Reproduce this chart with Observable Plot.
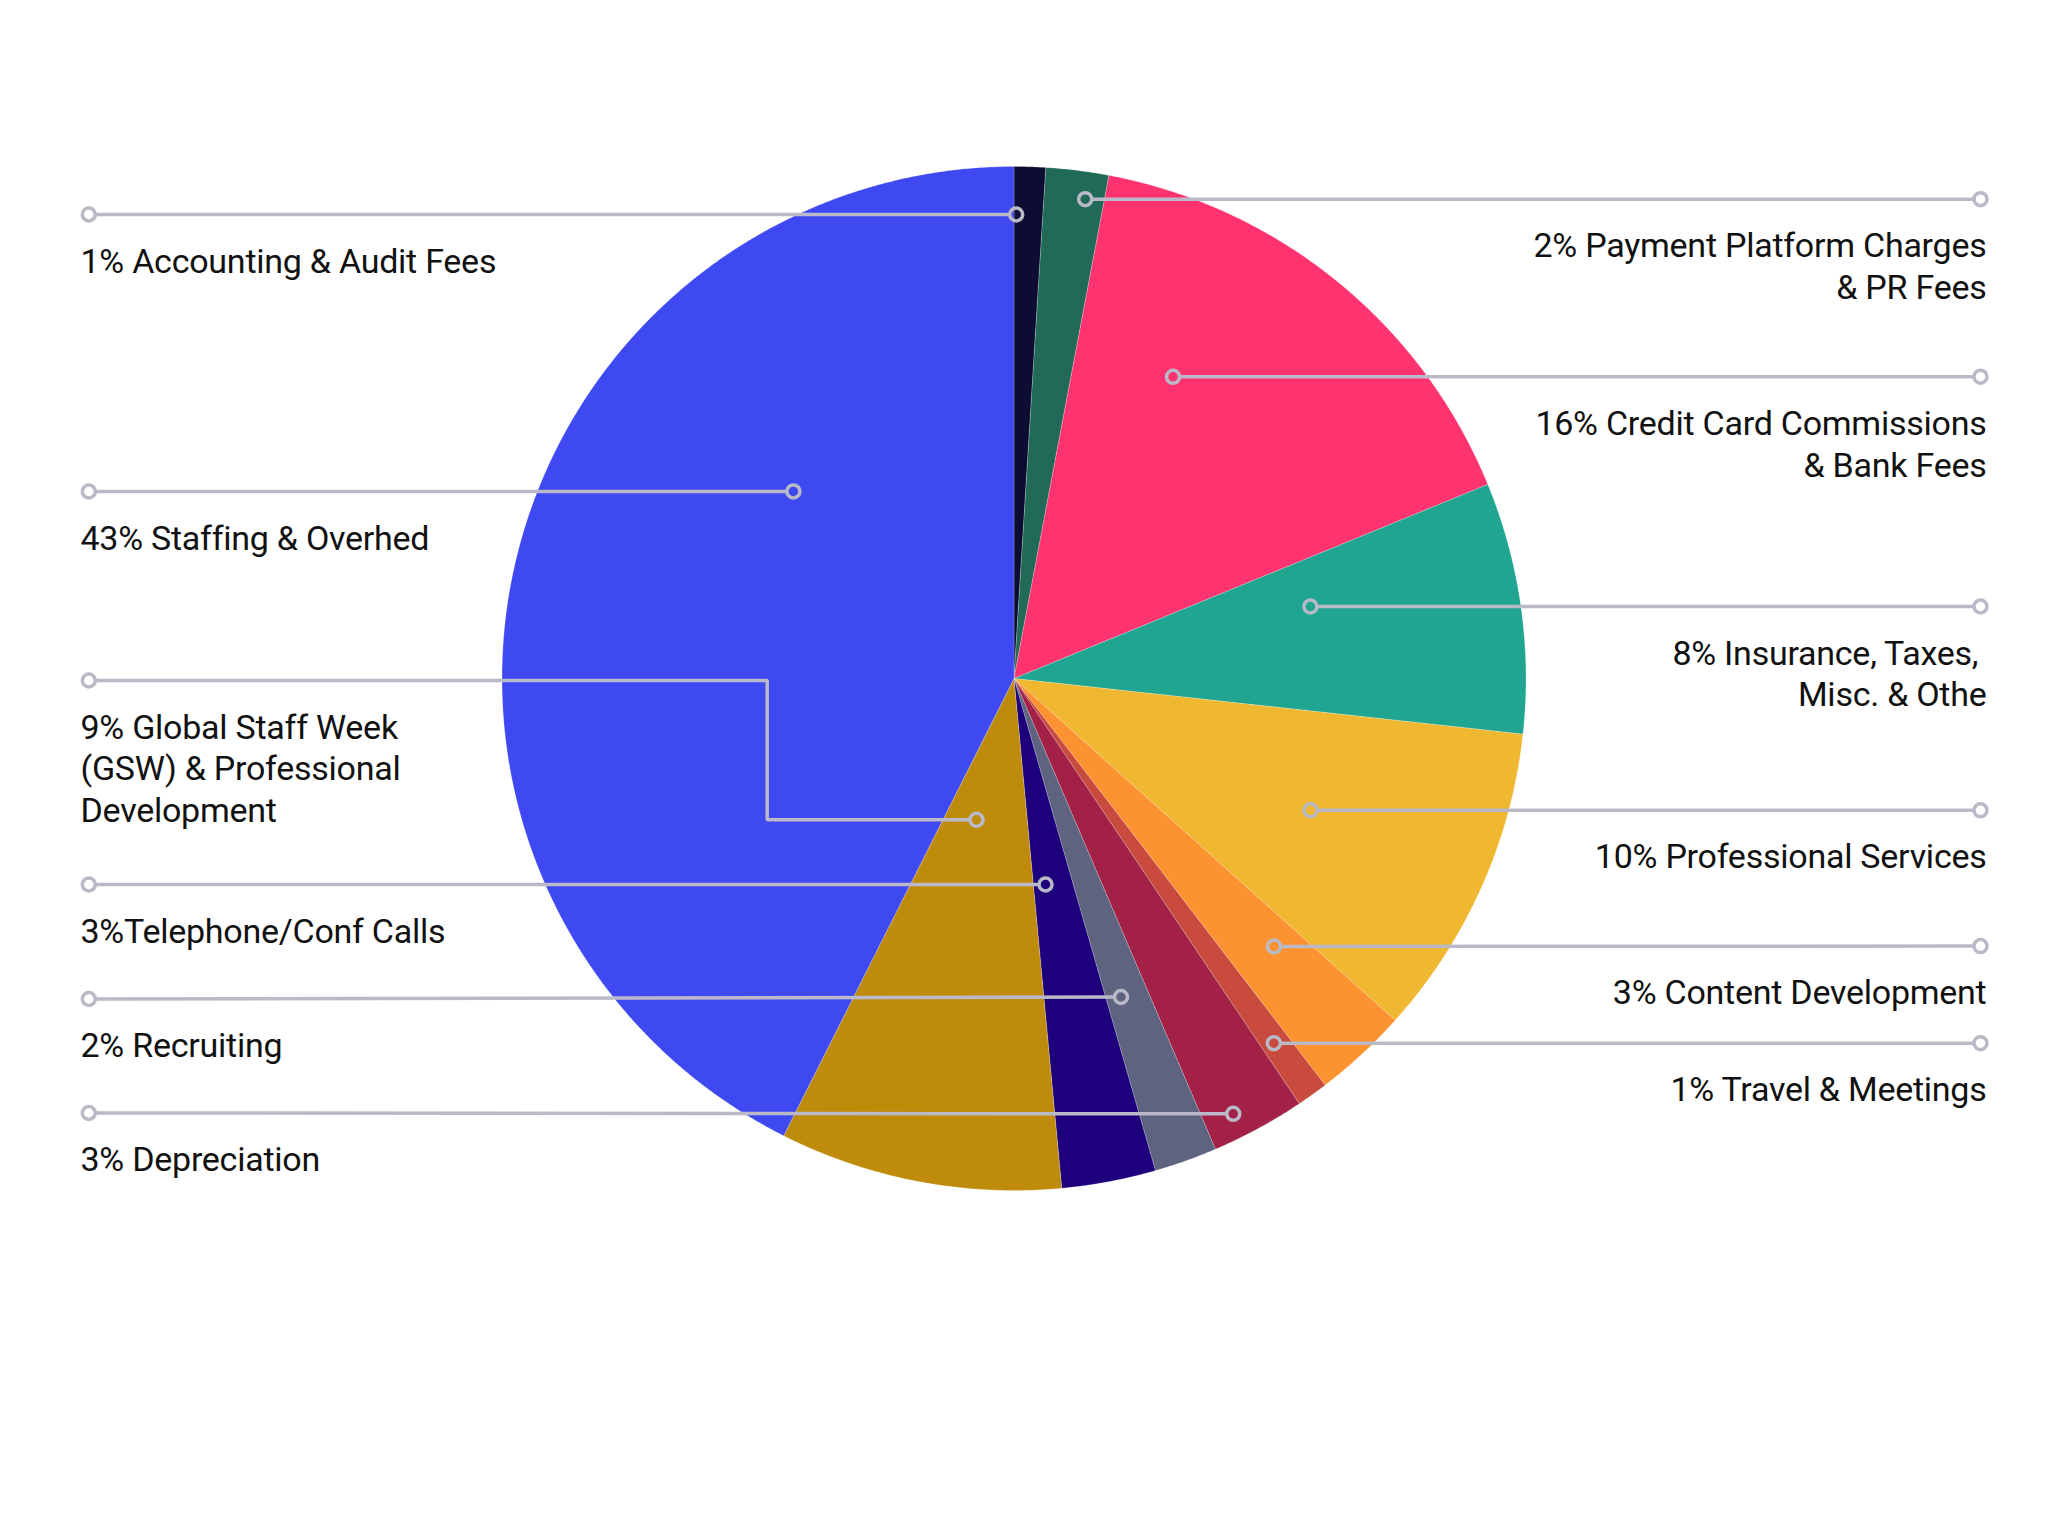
<!DOCTYPE html>
<html>
<head>
<meta charset="utf-8">
<script src="https://cdn.jsdelivr.net/npm/d3@7"></script>
<script src="https://cdn.jsdelivr.net/npm/@observablehq/plot@0.6"></script>
<style>
  html, body { margin: 0; padding: 0; background: #ffffff; }
  svg text { white-space: pre; letter-spacing: -0.25px; }
</style>
</head>
<body>
<div id="chart"></div>
<script>
// ---------- data ----------
const categories = [
  "Accounting & Audit Fees",
  "Payment Platform Charges & PR Fees",
  "Credit Card Commissions & Bank Fees",
  "Insurance, Taxes, Misc. & Other",
  "Professional Services",
  "Content Development",
  "Travel & Meetings",
  "Depreciation",
  "Recruiting",
  "Telephone/Conf Calls",
  "Global Staff Week (GSW) & Professional Development",
  "Staffing & Overhead"
];
const percents = [1, 2, 16, 8, 10, 3, 1, 3, 2, 3, 9, 43];
const labelTexts = [
  "1% Accounting & Audit Fees",
  "2% Payment Platform Charges\n& PR Fees",
  "16% Credit Card Commissions\n& Bank Fees",
  "8% Insurance, Taxes, \nMisc. & Othe",
  "10% Professional Services",
  "3% Content Development",
  "1% Travel & Meetings",
  "3% Depreciation",
  "2% Recruiting",
  "3%Telephone/Conf Calls",
  "9% Global Staff Week\n(GSW) & Professional\nDevelopment",
  "43% Staffing & Overhed"
];

// ---------- styles ----------
const sliceColors = [
  "#0d0d33", "#216a57", "#ff3370", "#1fa590", "#f0b830", "#fd9330",
  "#c84b3e", "#a32146", "#5e6380", "#1e007d", "#bf8b0b", "#3f49f2"
];
const calloutColor = "#b9b9c7";
const textColor = "#111111";
const fontSize = 34;
const lineHeightPx = 42;

// ---------- layout ----------
const W = 2048, H = 1536;
const CX = 1013.5, CY = 678, R = 512;
const calloutSide = ["left", "right", "right", "right", "right", "right", "right", "left", "left", "left", "left", "left"];
const anchorAngleDeg = [0.27, 8.45, 27.8, 76.35, 113.96, 135.87, 144.53, 153.27, 161.43, 171.3, 194.86, 310.3];
const anchorRadius = [464, 484.6, 341, 305, 324.5, 373.4, 447.8, 487.4, 336, 208.4, 146.2, 289.3];
const outerY = [214, 198.7, 376.2, 606, 809.8, 945.6, 1042.7, 1112.5, 998.5, 884, 680, 491];
const elbowX = [null, null, null, null, null, null, null, null, null, null, 766.7, null];
const leftDotX = 88.3, rightDotX = 1980;
const leftTextX = 80, rightTextX = 1986;
const dotR = 6.5;
const lineW = 3.5;
const textGap = 58; // from callout line to first baseline

// ---------- pie geometry ----------
const arcs = d3.pie().sort(null).value(d => d)(percents);
const piePts = [];
arcs.forEach((a, i) => {
  const n = Math.max(4, Math.ceil((a.endAngle - a.startAngle) / (Math.PI / 720)));
  piePts.push({cat: categories[i], x: CX, y: CY});
  for (let k = 0; k <= n; k++) {
    const t = a.startAngle + (a.endAngle - a.startAngle) * k / n;
    piePts.push({cat: categories[i], x: CX + R * Math.sin(t), y: CY - R * Math.cos(t)});
  }
  piePts.push({cat: categories[i], x: CX, y: CY});
});

// ---------- callouts ----------
const inner = categories.map((c, i) => {
  const t = anchorAngleDeg[i] * Math.PI / 180;
  return {cat: c, x: CX + anchorRadius[i] * Math.sin(t), y: CY - anchorRadius[i] * Math.cos(t)};
});
const outer = categories.map((c, i) => ({
  cat: c,
  x: calloutSide[i] === "left" ? leftDotX : rightDotX,
  y: outerY[i]
}));
function shorten(p, q, d) {
  const dx = q.x - p.x, dy = q.y - p.y, L = Math.hypot(dx, dy) || 1;
  return {x: p.x + dx / L * d, y: p.y + dy / L * d};
}
const linePts = [];
categories.forEach((c, i) => {
  const pts = [outer[i]];
  if (elbowX[i] != null) {
    pts.push({x: elbowX[i], y: outer[i].y});
    pts.push({x: elbowX[i], y: inner[i].y});
  }
  pts.push(inner[i]);
  const m = pts.length;
  const first = shorten(pts[0], pts[1], dotR);
  const last = shorten(pts[m - 1], pts[m - 2], dotR);
  const seq = [first, ...pts.slice(1, m - 1), last];
  seq.forEach(p => linePts.push({cat: c, x: p.x, y: p.y}));
});
const dots = [...inner, ...outer];

const labels = categories.map((c, i) => ({
  text: labelTexts[i],
  side: calloutSide[i],
  x: calloutSide[i] === "left" ? leftTextX : rightTextX,
  y: outerY[i]
}));
const textDy = textGap - 0.71 * lineHeightPx;

const chart = Plot.plot({
  width: W,
  height: H,
  margin: 0,
  x: {domain: [0, W], range: [0, W], axis: null},
  y: {domain: [0, H], range: [0, H], axis: null},
  color: {domain: categories, range: sliceColors},
  style: {fontFamily: "Roboto, 'Noto Sans', sans-serif", background: "#ffffff", overflow: "visible"},
  marks: [
    Plot.line(piePts, {x: "x", y: "y", z: "cat", fill: "cat", stroke: "#ffffff", strokeWidth: 0.6, strokeOpacity: 0.35}),
    Plot.line(linePts, {x: "x", y: "y", z: "cat", stroke: calloutColor, strokeWidth: lineW, strokeLinecap: "butt", strokeLinejoin: "miter"}),
    Plot.dot(dots, {x: "x", y: "y", r: dotR, stroke: calloutColor, strokeWidth: lineW, fill: "none"}),
    Plot.text(labels.filter(d => d.side === "left"), {
      x: "x", y: "y", text: "text", textAnchor: "start", lineAnchor: "top",
      dy: textDy, fontSize, lineHeight: lineHeightPx / fontSize, fill: textColor
    }),
    Plot.text(labels.filter(d => d.side === "right"), {
      x: "x", y: "y", text: "text", textAnchor: "end", lineAnchor: "top",
      dy: textDy, fontSize, lineHeight: lineHeightPx / fontSize, fill: textColor
    })
  ]
});
document.getElementById("chart").appendChild(chart);
</script>
</body>
</html>
